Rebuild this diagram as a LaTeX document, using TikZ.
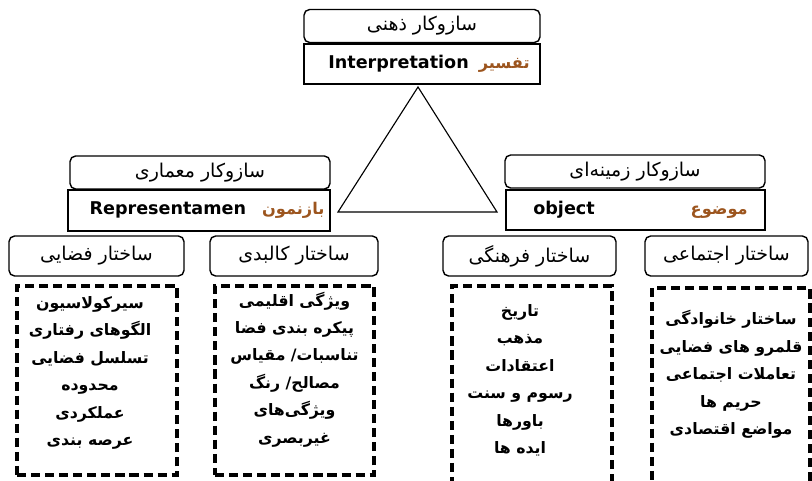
\documentclass[tikz,border=0pt]{standalone}
\usepackage{fontspec}
\setmainfont{DejaVu Sans}
\newfontfamily\fa[Script=Arabic]{DejaVu Sans}
\TeXXeTstate=1
\definecolor{brownw}{RGB}{156,85,30}
\newcommand{\fl}[1]{{\fa\beginR #1\endR}}
\newcommand{\bw}[1]{\textcolor{brownw}{\fontsize{11.5}{13}\selectfont\fl{#1}}}

\begin{document}
\begin{tikzpicture}
% Styles
\tikzset{
    headbox/.style={draw, rounded corners=4pt, line width=1pt, minimum height=0.825cm, font=\fontsize{13.5}{15}\selectfont},
    namebox/.style={draw, line width=1pt, minimum height=1cm, font=\bfseries\fontsize{12.5}{14}\selectfont},
    framebox/.style={draw, line width=2.5pt, dash pattern=on 6.5pt off 3.5pt},
    listtext/.style={align=center, anchor=north, inner sep=0pt, font=\bfseries\fontsize{11.2}{19.5}\selectfont}
}
\useasboundingbox (0,0) rectangle (20.3,12);

% Top
\node[headbox, minimum width=5.9cm] (MIND) at (10.55, 11.35) {\fl{سازوکار ذهنی}};
\node[namebox, minimum width=5.9cm] (INTP) at (10.55, 10.4) {\hspace*{0.35cm}Interpretation\hspace{0.25cm}\bw{تفسیر}};

% Triangle
\draw[line width=0.8pt] (10.45, 9.825) -- (12.425, 6.7) -- (8.45, 6.7) -- cycle;

% Sides
\node[headbox, minimum width=6.5cm] (ARCH) at (5.0, 7.6875) {\fl{سازوکار معماری}};
\node[namebox, minimum width=6.55cm, minimum height=1.025cm] (REPR) at (4.975, 6.7375) {\hspace*{0.4cm}Representamen\hspace{0.4cm}\bw{بازنمون}};
\node[headbox, minimum width=6.5cm] (CTX) at (15.875, 7.7125) {\fl{سازوکار زمینه‌ای}};
\node[namebox, minimum width=6.475cm] (OBJ) at (15.8875, 6.75) {\hspace*{0.25cm}object\hspace{2.4cm}\bw{موضوع}};

% Structures
\node[headbox, minimum width=4.375cm, minimum height=1cm] (SPAT) at (2.4125, 5.6) {\fl{ساختار فضایی}};
\node[headbox, minimum width=4.2cm, minimum height=1cm] (PHYS) at (7.35, 5.6) {\fl{ساختار کالبدی}};
\node[headbox, minimum width=4.325cm, minimum height=1cm] (CULT) at (13.2375, 5.6) {\fl{ساختار فرهنگی}};
\node[headbox, minimum width=4.075cm, minimum height=1cm] (SOCI) at (18.1625, 5.6) {\fl{ساختار اجتماعی}};

% Frames
\node[framebox, minimum width=4cm, minimum height=4.725cm] (F1) at (2.425, 2.4875) {};
\node[framebox, minimum width=3.975cm, minimum height=4.725cm] (F2) at (7.3625, 2.4875) {};
\node[framebox, minimum width=4cm, minimum height=5.15cm] (F3) at (13.3, 2.275) {};
\node[framebox, minimum width=3.95cm, minimum height=5.1cm] (F4) at (18.275, 2.25) {};

% Lists
\node[listtext] (L1) at ([xshift=-0.175cm, yshift=-0.3cm]F1.north) {\fl{سیرکولاسیون}\\ \fl{الگوهای رفتاری}\\ \fl{تسلسل فضایی}\\ \fl{محدوده}\\ \fl{عملکردی}\\ \fl{عرصه بندی}};
\node[listtext] (L2) at ([yshift=-0.18cm]F2.north) {\fl{ویژگی اقلیمی}\\ \fl{پیکره بندی فضا}\\ \fl{تناسبات/ مقیاس}\\ \fl{مصالح/ رنگ}\\ \fl{ویژگی‌های}\\ \fl{غیربصری}};
\node[listtext] (L3) at ([xshift=-0.3cm, yshift=-0.5cm]F3.north) {\fl{تاریخ}\\ \fl{مذهب}\\ \fl{اعتقادات}\\ \fl{رسوم و سنت}\\ \fl{باورها}\\ \fl{ایده ها}};
\node[listtext] (L4) at ([yshift=-0.6cm]F4.north) {\fl{ساختار خانوادگی}\\ \fl{قلمرو های فضایی}\\ \fl{تعاملات اجتماعی}\\ \fl{حریم ها}\\ \fl{مواضع اقتصادی}};
\end{tikzpicture}
\end{document}
